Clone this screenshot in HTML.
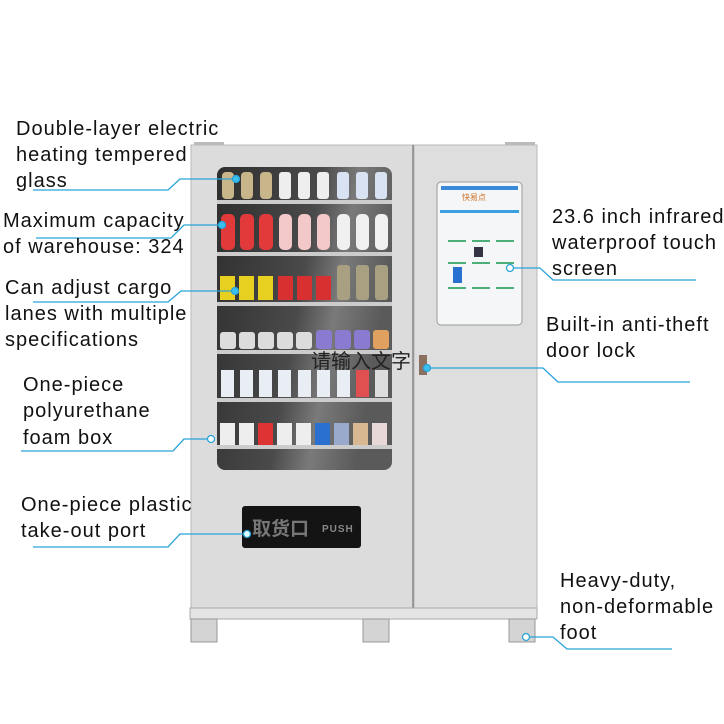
<!DOCTYPE html>
<html><head><meta charset="utf-8"><style>
html,body{margin:0;padding:0;background:#fff;width:724px;height:724px;overflow:hidden}
svg text{font-family:"Liberation Sans","Noto Sans CJK SC",sans-serif}
.l{font-size:20px;fill:#111;letter-spacing:1px}
</style></head><body>
<svg width="724" height="724" viewBox="0 0 724 724" xmlns="http://www.w3.org/2000/svg">
<defs>
<linearGradient id="gl" x1="0" y1="0" x2="1" y2="0.3">
<stop offset="0" stop-color="#2e2e2e"/><stop offset="0.55" stop-color="#4a4a4a"/><stop offset="0.75" stop-color="#7a7a7a"/><stop offset="1" stop-color="#5a5a5a"/>
</linearGradient>
</defs>
<rect x="194" y="142" width="30" height="5" fill="#bbb"/>
<rect x="505" y="142" width="30" height="5" fill="#bbb"/>
<rect x="191" y="145" width="222" height="463" fill="#dcdcdc" stroke="#b8b8b8"/>
<rect x="414" y="145" width="123" height="463" fill="#dedede" stroke="#b8b8b8"/>
<line x1="413" y1="145" x2="413" y2="608" stroke="#888" stroke-width="1.5"/>
<rect x="190" y="608" width="347" height="11" fill="#e4e4e4" stroke="#aaa"/>
<rect x="191" y="619" width="26" height="23" fill="#d4d4d4" stroke="#999"/>
<rect x="363" y="619" width="26" height="23" fill="#d4d4d4" stroke="#999"/>
<rect x="509" y="619" width="26" height="23" fill="#d4d4d4" stroke="#999"/>
<rect x="217" y="167" width="175" height="303" rx="8" fill="url(#gl)"/>
<g fill="#ccc">
<rect x="217" y="200" width="175" height="4"/>
<rect x="217" y="252" width="175" height="4"/>
<rect x="217" y="302" width="175" height="4"/>
<rect x="217" y="350" width="175" height="4"/>
<rect x="217" y="398" width="175" height="4"/>
<rect x="217" y="445" width="175" height="4"/>
</g>
<g>
<g fill="#c9b58a"><rect x="222" y="172" width="12" height="27" rx="4"/><rect x="241" y="172" width="12" height="27" rx="4"/><rect x="260" y="172" width="12" height="27" rx="4"/></g>
<g fill="#eee"><rect x="279" y="172" width="12" height="27" rx="3"/><rect x="298" y="172" width="12" height="27" rx="3"/><rect x="317" y="172" width="12" height="27" rx="3"/></g>
<g fill="#d8e2f2"><rect x="337" y="172" width="12" height="27" rx="3"/><rect x="356" y="172" width="12" height="27" rx="3"/><rect x="375" y="172" width="12" height="27" rx="3"/></g>
<g fill="#e23a3a"><rect x="221" y="214" width="14" height="36" rx="5"/><rect x="240" y="214" width="14" height="36" rx="5"/><rect x="259" y="214" width="14" height="36" rx="5"/></g>
<g fill="#f2c8c8"><rect x="279" y="214" width="13" height="36" rx="5"/><rect x="298" y="214" width="13" height="36" rx="5"/><rect x="317" y="214" width="13" height="36" rx="5"/></g>
<g fill="#f0f0f0"><rect x="337" y="214" width="13" height="36" rx="5"/><rect x="356" y="214" width="13" height="36" rx="5"/><rect x="375" y="214" width="13" height="36" rx="5"/></g>
<g fill="#e8d020"><rect x="220" y="276" width="15" height="24"/><rect x="239" y="276" width="15" height="24"/><rect x="258" y="276" width="15" height="24"/></g>
<g fill="#d83030"><rect x="278" y="276" width="15" height="24"/><rect x="297" y="276" width="15" height="24"/><rect x="316" y="276" width="15" height="24"/></g>
<g fill="#a8a080"><rect x="337" y="265" width="13" height="35" rx="3"/><rect x="356" y="265" width="13" height="35" rx="3"/><rect x="375" y="265" width="13" height="35" rx="3"/></g>
<g fill="#dcdcdc"><rect x="220" y="332" width="16" height="17" rx="3"/><rect x="239" y="332" width="16" height="17" rx="3"/><rect x="258" y="332" width="16" height="17" rx="3"/><rect x="277" y="332" width="16" height="17" rx="3"/><rect x="296" y="332" width="16" height="17" rx="3"/></g>
<g fill="#8a7ad0"><rect x="316" y="330" width="16" height="19" rx="3"/><rect x="335" y="330" width="16" height="19" rx="3"/><rect x="354" y="330" width="16" height="19" rx="3"/></g>
<rect x="373" y="330" width="16" height="19" rx="3" fill="#e0a060"/>
<g fill="#e8eef4"><rect x="221" y="370" width="13" height="27"/><rect x="240" y="370" width="13" height="27"/><rect x="259" y="370" width="13" height="27"/><rect x="278" y="370" width="13" height="27"/><rect x="298" y="370" width="13" height="27"/><rect x="317" y="370" width="13" height="27"/><rect x="337" y="370" width="13" height="27"/></g>
<rect x="356" y="370" width="13" height="27" fill="#e05050"/><rect x="375" y="370" width="13" height="27" fill="#ddd"/>
<g fill="#eee"><rect x="220" y="423" width="15" height="22"/><rect x="239" y="423" width="15" height="22"/><rect x="277" y="423" width="15" height="22"/><rect x="296" y="423" width="15" height="22"/></g>
<rect x="258" y="423" width="15" height="22" fill="#d33"/>
<rect x="315" y="423" width="15" height="22" fill="#2a70d0"/>
<rect x="334" y="423" width="15" height="22" fill="#9ac"/>
<rect x="353" y="423" width="15" height="22" fill="#d8b890"/>
<rect x="372" y="423" width="15" height="22" fill="#e8d8d8"/>
</g>
<rect x="437" y="182" width="85" height="143" rx="4" fill="#f4f6f8" stroke="#999"/>
<rect x="441" y="186" width="77" height="4" fill="#3a8ad8"/>
<text x="462" y="200" font-size="8" fill="#d07020">快易点</text>
<rect x="440" y="210" width="79" height="3" fill="#3aa0e0"/>
<g fill="#4caf7a"><rect x="448" y="240" width="18" height="2"/><rect x="472" y="240" width="18" height="2"/><rect x="496" y="240" width="18" height="2"/><rect x="448" y="262" width="18" height="2"/><rect x="472" y="262" width="18" height="2"/><rect x="496" y="262" width="18" height="2"/><rect x="448" y="287" width="18" height="2"/><rect x="472" y="287" width="18" height="2"/><rect x="496" y="287" width="18" height="2"/></g>
<rect x="453" y="267" width="9" height="16" fill="#2a70d0"/>
<rect x="474" y="247" width="9" height="10" fill="#334"/>
<rect x="419" y="355" width="8" height="20" fill="#8a7060"/>
<text x="311" y="368" font-size="20" fill="#222">请输入文字</text>
<rect x="242" y="506" width="119" height="42" rx="3" fill="#141414"/>
<text x="252" y="535" font-size="19" fill="#777" font-weight="bold">取货口</text>
<text x="322" y="532" font-size="10" fill="#888" font-weight="bold" letter-spacing="1">PUSH</text>
<g stroke="#2aa3d8" stroke-width="1.3" fill="none">
<polyline points="236,179 180,179 168,190 33,190"/>
<polyline points="222,225 184,225 171,238 36,238"/>
<polyline points="235,291 181,291 168,302 33,302"/>
<polyline points="211,439 184,439 173,451 21,451"/>
<polyline points="247,534 180,534 168,547 33,547"/>
<polyline points="510,268 540,268 553,280 696,280"/>
<polyline points="427,368 543,368 558,382 690,382"/>
<polyline points="526,637 553,637 567,649 672,649"/>
</g>
<g fill="#fff" stroke="#2aa3d8" stroke-width="1.3">
<circle cx="236" cy="179" r="3.5" fill="#3cc0ee"/>
<circle cx="222" cy="225" r="3.5" fill="#3cc0ee"/>
<circle cx="235" cy="291" r="3.5" fill="#3cc0ee"/>
<circle cx="211" cy="439" r="3.5"/>
<circle cx="247" cy="534" r="3.5" fill="#dff"/>
<circle cx="510" cy="268" r="3.5"/>
<circle cx="427" cy="368" r="3.5" fill="#3cc0ee"/>
<circle cx="526" cy="637" r="3.5"/>
</g>
<text class="l" x="16" y="135">Double-layer electric</text>
<text class="l" x="16" y="161">heating tempered</text>
<text class="l" x="16" y="187">glass</text>
<text class="l" x="3" y="227">Maximum capacity</text>
<text class="l" x="3" y="253">of warehouse: 324</text>
<text class="l" x="5" y="294">Can adjust cargo</text>
<text class="l" x="5" y="320">lanes with multiple</text>
<text class="l" x="5" y="346">specifications</text>
<text class="l" x="23" y="391">One-piece</text>
<text class="l" x="23" y="417">polyurethane</text>
<text class="l" x="23" y="444">foam box</text>
<text class="l" x="21" y="511">One-piece plastic</text>
<text class="l" x="21" y="537">take-out port</text>
<text class="l" x="552" y="223">23.6 inch infrared</text>
<text class="l" x="552" y="249">waterproof touch</text>
<text class="l" x="552" y="275">screen</text>
<text class="l" x="546" y="331">Built-in anti-theft</text>
<text class="l" x="546" y="357">door lock</text>
<text class="l" x="560" y="587">Heavy-duty,</text>
<text class="l" x="560" y="613">non-deformable</text>
<text class="l" x="560" y="639">foot</text>
</svg>
</body></html>
